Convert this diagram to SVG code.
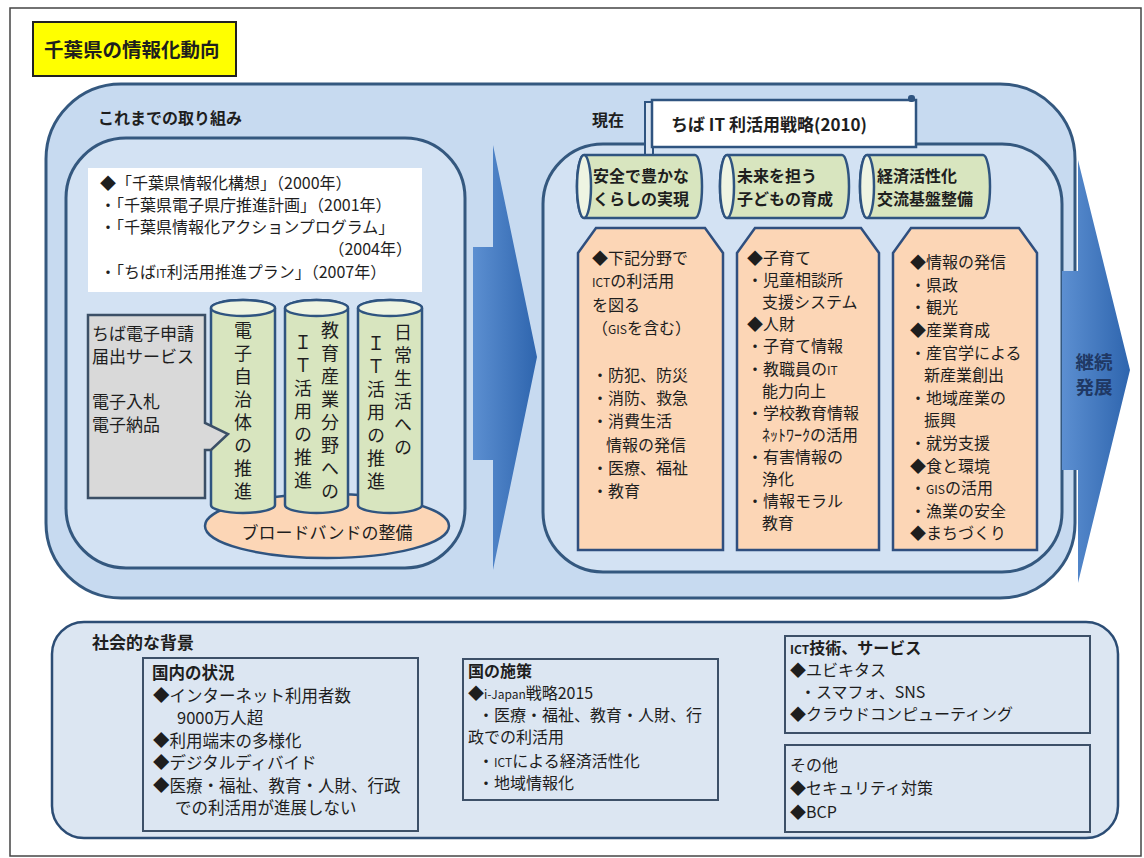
<svg xmlns="http://www.w3.org/2000/svg" width="1144" height="858" viewBox="0 0 1144 858">
<defs>
<style>
text{font-family:'Noto Sans CJK JP','Noto Sans',sans-serif;fill:#1e1e1e}
.panel{fill:#c7daf0;stroke:#34587f;stroke-width:3}
.inner{fill:#d3e2f3;stroke:#34587f;stroke-width:3}
.cyl{fill:#d8e5bf;stroke:#2f5480;stroke-width:2.5}
.cyltop{fill:#eef4e2;stroke:#2f5480;stroke-width:2.5}
.org{fill:#fcd6b6;stroke:#2f4f7f;stroke-width:2.5}
.bx{fill:#dce6f2;stroke:#3d5068;stroke-width:2}
.t16{font-size:16px}
.t165{font-size:16.5px}
.t17{font-size:17px}
.b{font-weight:bold}
.v{writing-mode:vertical-rl;font-size:18px;letter-spacing:5px}
.arrow{fill:url(#ag)}
.sm{font-size:12px}
</style>
<linearGradient id="ag" x1="0" y1="0" x2="1" y2="0">
<stop offset="0" stop-color="#5c8fd1"/><stop offset="1" stop-color="#2e65ae"/>
</linearGradient>
</defs>
<rect x="0" y="0" width="1144" height="858" fill="#ffffff"/>
<rect x="10" y="8" width="1131" height="848" fill="#ffffff" stroke="#444" stroke-width="1.5"/>

<g id="title">
<rect x="33" y="22" width="203" height="54" fill="#ffff00" stroke="#222" stroke-width="2"/>
<text x="44" y="57" class="b" style="font-size:19.5px">千葉県の情報化動向</text>
</g>

<g id="main-panel">
<rect x="46" y="84" width="1029" height="514" rx="75" class="panel"/>
</g>

<g id="past">
<text x="98" y="124" class="t16 b">これまでの取り組み</text>
<rect x="66" y="138" width="399" height="430" rx="60" class="inner"/>
<rect x="88" y="168" width="334" height="124" fill="#ffffff"/>
<text class="t16"><tspan x="100" y="189">◆「千葉県情報化構想」（2000年）</tspan><tspan x="100" y="211">・「千葉県電子県庁推進計画」（2001年）</tspan><tspan x="100" y="233">・「千葉県情報化アクションプログラム」</tspan><tspan x="412" y="255" text-anchor="end">（2004年）</tspan><tspan x="100" y="278">・「ちば<tspan class="sm">IT</tspan>利活用推進プラン」（2007年）</tspan></text>
</g>

<g id="broadband">
<ellipse cx="327" cy="526" rx="122" ry="32" fill="#fcd6b6" stroke="#2f5480" stroke-width="2.5"/>
<text x="327" y="539" text-anchor="middle" class="t17">ブロードバンドの整備</text>
</g>

<g id="pillar-1">
<path class="cyl" d="M211,308 V505 A32,8 0 0 0 275,505 V308 A32,8 0 0 0 211,308 Z"/>
<ellipse class="cyltop" cx="243" cy="308" rx="32" ry="8"/>
<text x="243" y="321" class="v">電子自治体の推進</text>
</g>
<g id="pillar-2">
<path class="cyl" d="M285,308 V505 A31.5,8 0 0 0 348,505 V308 A31.5,8 0 0 0 285,308 Z"/>
<ellipse class="cyltop" cx="316.5" cy="308" rx="31.5" ry="8"/>
<text class="v"><tspan x="330" y="321">教育産業分野への</tspan><tspan x="303" y="333">ＩＴ活用の推進</tspan></text>
</g>
<g id="pillar-3">
<path class="cyl" d="M358,308 V505 A32,8 0 0 0 422,505 V308 A32,8 0 0 0 358,308 Z"/>
<ellipse class="cyltop" cx="390" cy="308" rx="32" ry="8"/>
<text class="v"><tspan x="403" y="323">日常生活への</tspan><tspan x="376" y="334">ＩＴ活用の推進</tspan></text>
</g>

<g id="e-services">
<path d="M88,315 H205 V423 L228,434 L211,450 H205 V498 H88 Z" fill="#d9d9d9" stroke="#3b4f66" stroke-width="2.5"/>
<text class="t17"><tspan x="92" y="340">ちば電子申請</tspan><tspan x="92" y="363">届出サービス</tspan><tspan x="92" y="408">電子入札</tspan><tspan x="92" y="431">電子納品</tspan></text>
</g>

<g id="connectors">
<polygon class="arrow" points="473,247 493,247 493,145 537,357 493,570 493,460 473,460"/>
</g>

<g id="present">
<rect x="543" y="144" width="519" height="428" rx="60" class="inner"/>
<text x="592" y="126" class="t16 b">現在</text>
</g>

<g id="strategy-tab">
<rect x="645" y="102" width="8" height="57" fill="#dbe5f1" stroke="#2f5480" stroke-width="2"/>
<rect x="652" y="100" width="264" height="47" fill="#ffffff" stroke="#2f5480" stroke-width="2.5"/>
<rect x="908" y="95" width="7" height="7" rx="3" fill="#2f5480"/>
<text x="671" y="131" class="t17 b">ちば IT 利活用戦略(2010)</text>
</g>

<g id="goal-1">
<path class="cyl" d="M584,155 H695 A7,31.5 0 0 1 695,218 H584 A7,31.5 0 0 1 584,155 Z"/>
<ellipse class="cyltop" cx="584" cy="186.5" rx="7" ry="31.5"/>
<text class="t16 b"><tspan x="593" y="182">安全で豊かな</tspan><tspan x="593" y="205">くらしの実現</tspan></text>
</g>
<g id="goal-2">
<path class="cyl" d="M727,155 H842 A7,31.5 0 0 1 842,218 H727 A7,31.5 0 0 1 727,155 Z"/>
<ellipse class="cyltop" cx="727" cy="186.5" rx="7" ry="31.5"/>
<text class="t16 b"><tspan x="737" y="182">未来を担う</tspan><tspan x="737" y="205">子どもの育成</tspan></text>
</g>
<g id="goal-3">
<path class="cyl" d="M867,155 H983 A7,31.5 0 0 1 983,218 H867 A7,31.5 0 0 1 867,155 Z"/>
<ellipse class="cyltop" cx="867" cy="186.5" rx="7" ry="31.5"/>
<text class="t16 b"><tspan x="877" y="182">経済活性化</tspan><tspan x="877" y="205">交流基盤整備</tspan></text>
</g>

<g id="measures-1">
<path class="org" d="M578,253 L596,228 H705 L723,253 V550 H578 Z"/>
<text class="t16"><tspan x="592" y="264">◆下記分野で</tspan><tspan x="592" y="287"><tspan class="sm">ICT</tspan>の利活用</tspan><tspan x="592" y="311">を図る</tspan><tspan x="592" y="334">（<tspan class="sm">GIS</tspan>を含む）</tspan><tspan x="592" y="381">・防犯、防災</tspan><tspan x="592" y="404">・消防、救急</tspan><tspan x="592" y="427">・消費生活</tspan><tspan x="606" y="451">情報の発信</tspan><tspan x="592" y="474">・医療、福祉</tspan><tspan x="592" y="497">・教育</tspan></text>
</g>
<g id="measures-2">
<path class="org" d="M737,253 L755,228 H861 L879,253 V550 H737 Z"/>
<text class="t16"><tspan x="747" y="264">◆子育て</tspan><tspan x="747" y="286">・児童相談所</tspan><tspan x="762" y="308">支援システム</tspan><tspan x="747" y="330">◆人財</tspan><tspan x="747" y="352">・子育て情報</tspan><tspan x="747" y="374.5">・教職員の<tspan class="sm">IT</tspan></tspan><tspan x="762" y="396.5">能力向上</tspan><tspan x="747" y="418.5">・学校教育情報</tspan><tspan x="762" y="441">ﾈｯﾄﾜｰｸの活用</tspan><tspan x="747" y="463">・有害情報の</tspan><tspan x="762" y="485">浄化</tspan><tspan x="747" y="507">・情報モラル</tspan><tspan x="762" y="529">教育</tspan></text>
</g>
<g id="measures-3">
<path class="org" d="M893,253 L911,228 H1019 L1037,253 V550 H893 Z"/>
<text class="t16"><tspan x="910" y="268">◆情報の発信</tspan><tspan x="910" y="290.5">・県政</tspan><tspan x="910" y="313">・観光</tspan><tspan x="910" y="336">◆産業育成</tspan><tspan x="910" y="358.5">・産官学による</tspan><tspan x="924" y="381">新産業創出</tspan><tspan x="910" y="403.5">・地域産業の</tspan><tspan x="924" y="426">振興</tspan><tspan x="910" y="449">・就労支援</tspan><tspan x="910" y="471.5">◆食と環境</tspan><tspan x="910" y="494">・<tspan class="sm">GIS</tspan>の活用</tspan><tspan x="910" y="516.5">・漁業の安全</tspan><tspan x="910" y="539">◆まちづくり</tspan></text>
</g>

<g id="continue-arrow">
<polygon class="arrow" points="1062,271 1078,271 1078,160 1130,370 1078,583 1078,470 1062,470"/>
<text text-anchor="middle" class="b" style="font-size:18.5px;fill:#1f3864"><tspan x="1094" y="369">継続</tspan><tspan x="1094" y="394">発展</tspan></text>
</g>

<g id="background-panel">
<rect x="52" y="622" width="1066" height="216" rx="32" fill="#dce6f2" stroke="#2c4d75" stroke-width="2.5"/>
<text x="92" y="649" class="t17 b">社会的な背景</text>
</g>

<g id="domestic">
<rect x="143" y="658" width="275" height="173" class="bx"/>
<text class="t165"><tspan x="152" y="679" class="b">国内の状況</tspan><tspan x="153" y="701.5">◆インターネット利用者数</tspan><tspan x="177" y="724">9000万人超</tspan><tspan x="153" y="746.5">◆利用端末の多様化</tspan><tspan x="153" y="769">◆デジタルディバイド</tspan><tspan x="153" y="791.5">◆医療・福祉、教育・人財、行政</tspan><tspan x="175" y="814">での利活用が進展しない</tspan></text>
</g>

<g id="national-policy">
<rect x="463" y="659" width="255" height="141" class="bx"/>
<text class="t16"><tspan x="468" y="677" class="b">国の施策</tspan><tspan x="468" y="699">◆<tspan class="sm">i-Japan</tspan>戦略2015</tspan><tspan x="478" y="721">・医療・福祉、教育・人財、行</tspan><tspan x="468" y="743">政での利活用</tspan><tspan x="478" y="767">・<tspan class="sm">ICT</tspan>による経済活性化</tspan><tspan x="478" y="789">・地域情報化</tspan></text>
</g>

<g id="ict-tech">
<rect x="785" y="636" width="305" height="97" class="bx"/>
<text class="t16"><tspan x="790" y="654" class="b"><tspan class="sm">ICT</tspan>技術、サービス</tspan><tspan x="790" y="676">◆ユビキタス</tspan><tspan x="800" y="698">・スマフォ、SNS</tspan><tspan x="790" y="720">◆クラウドコンピューティング</tspan></text>
</g>

<g id="others">
<rect x="785" y="745" width="305" height="87" class="bx"/>
<text class="t16"><tspan x="790" y="771">その他</tspan><tspan x="790" y="794">◆セキュリティ対策</tspan><tspan x="790" y="818">◆BCP</tspan></text>
</g>
</svg>
